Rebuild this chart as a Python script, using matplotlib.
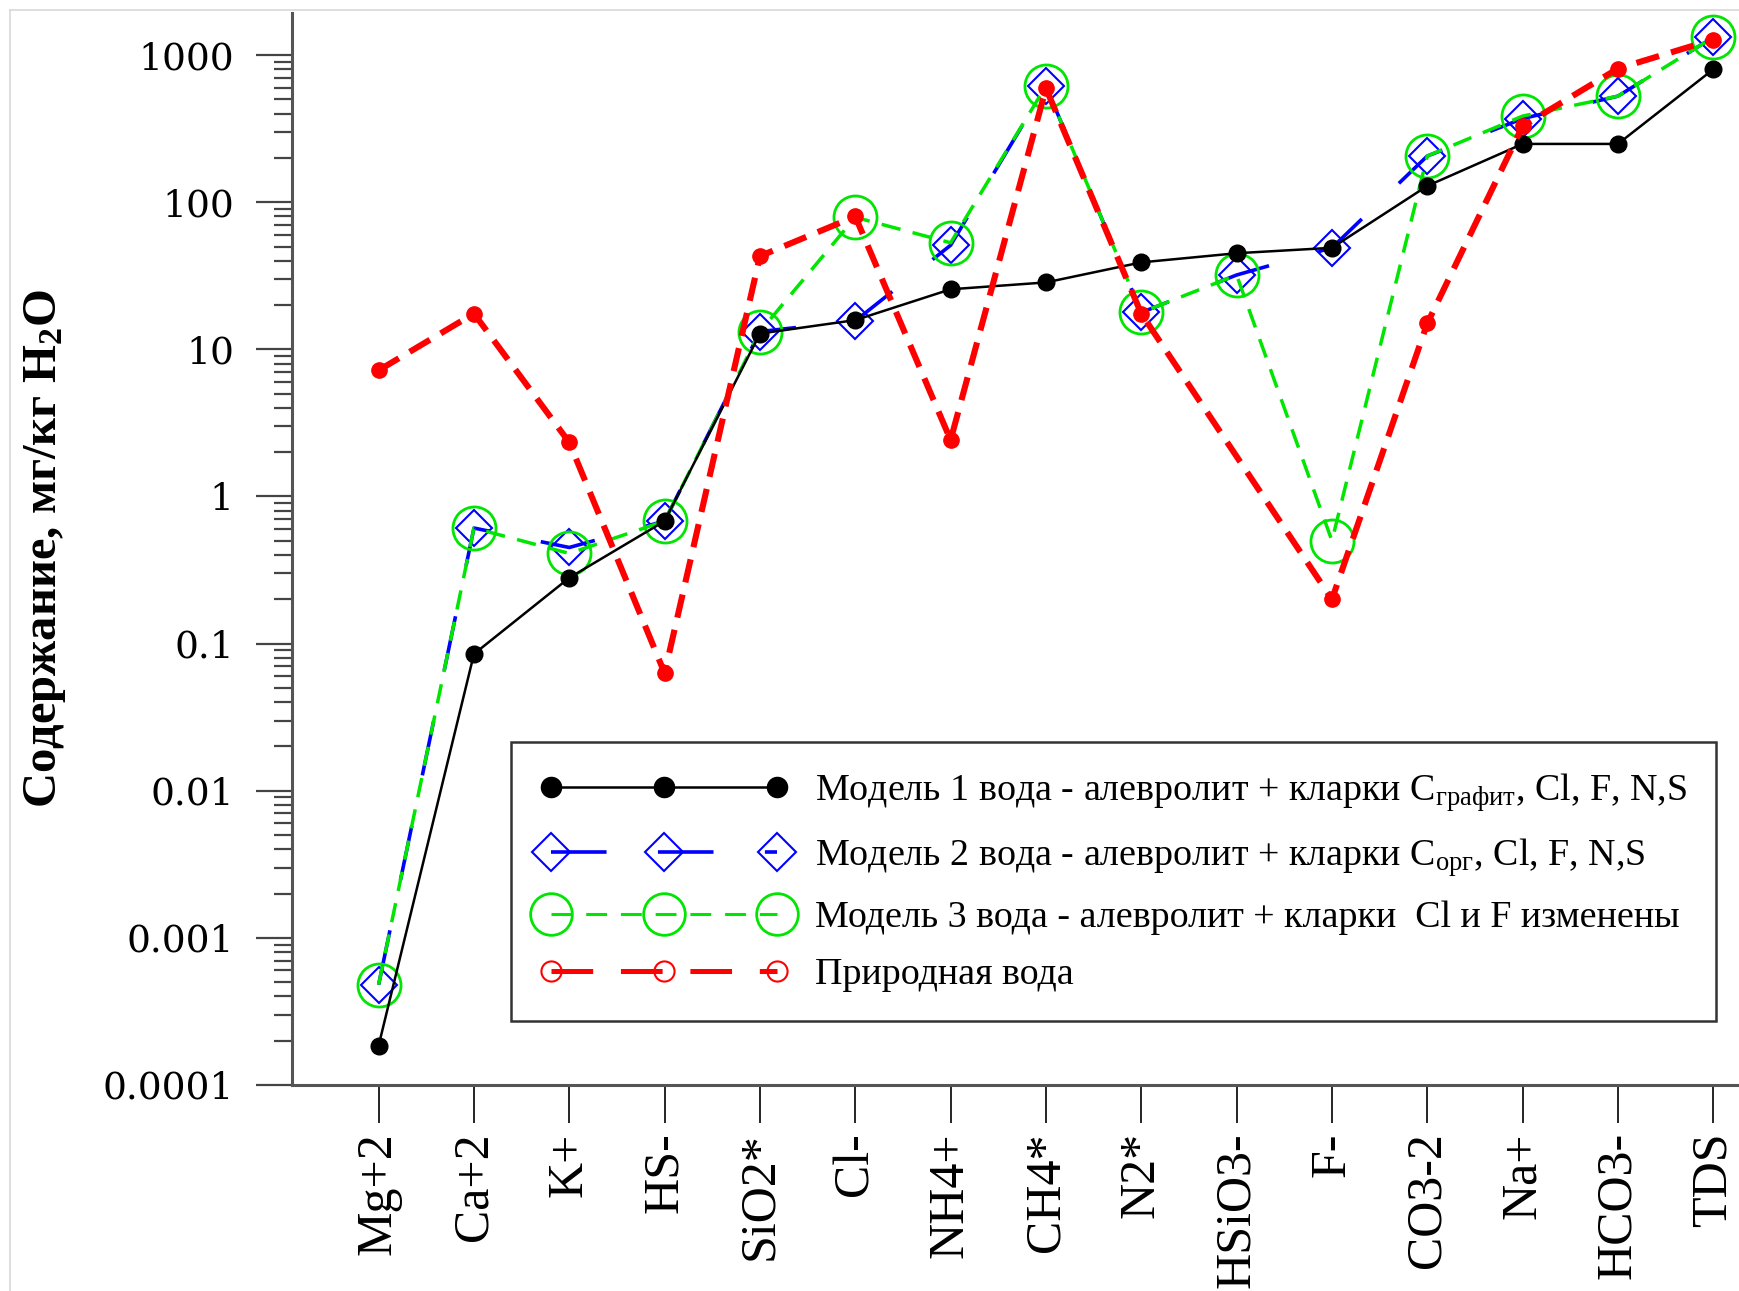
import numpy as np
import matplotlib
matplotlib.use("Agg")
import matplotlib.pyplot as plt
from matplotlib.lines import Line2D
from matplotlib.ticker import LogLocator, FuncFormatter, NullFormatter

plt.rcParams.update({
    "font.family": "Liberation Serif",
    "mathtext.fontset": "custom",
    "mathtext.rm": "Liberation Serif",
    "mathtext.it": "Liberation Serif:italic",
    "mathtext.bf": "Liberation Serif:bold",
    "lines.scale_dashes": False,
})

SPECIES = ["Mg+2", "Ca+2", "K+", "HS-", "SiO2*", "Cl-", "NH4+", "CH4*",
           "N2*", "HSiO3-", "F-", "CO3-2", "Na+", "HCO3-", "TDS"]

# mg/kg H2O
MODEL1 = [1.85e-4, 0.085, 0.28, 0.68, 12.8, 15.8, 25.6, 28.5, 39, 45, 49, 129, 249, 249, 800]
MODEL2 = [4.8e-4, 0.61, 0.45, 0.68, 13.2, 15.6, 51, 615, 17.8, 32, 49, 206, 370, 526, 1320]
MODEL3 = [4.8e-4, 0.61, 0.41, 0.68, 13.2, 79, 53, 615, 17.8, 32, 0.5, 206, 385, 526, 1320]
NATURAL = [7.2, 17.5, 2.33, 0.063, 43, 80, 2.42, 594, 17.5, np.nan, 0.2, 15, 329, 810, 1275]

LABELS = [
    "Модель 1 вода - алевролит + кларки C$_{\\mathregular{графит}}$, Cl, F, N,S",
    "Модель 2 вода - алевролит + кларки C$_{\\mathregular{орг}}$, Cl, F, N,S",
    "Модель 3 вода - алевролит + кларки  Cl и F изменены",
    "Природная вода",
]

BLUE = "#0000ff"
GREEN = "#00e600"
RED = "#ff0000"

fig = plt.figure(figsize=(17.39, 12.91), dpi=100)
ax = fig.add_axes([0.168, 0.1596, 0.832, 0.8304])

x = np.arange(len(SPECIES))

ax.plot(x, MODEL2, color=BLUE, lw=2.6, dashes=(40, 37), marker="D", ms=18,
        mfc="none", mec=BLUE, mew=1.5, zorder=2)
ax.plot(x, MODEL3, color=GREEN, lw=2.5, dashes=(14, 9), marker="o", ms=31,
        mfc="none", mec=GREEN, mew=2.0, zorder=3)
ax.plot(x, MODEL1, color="black", lw=1.8, marker="o", ms=12, zorder=4)
nat = np.array(NATURAL)
ok = ~np.isnan(nat)
ax.plot(x[ok], nat[ok], color=RED, lw=4.4, dashes=(17, 9), marker="o", ms=11,
        mfc=RED, mec=RED, zorder=5)

ax.set_yscale("log")
ax.set_ylim(1e-4, 1935)
ax.set_xlim(-0.907, 14.27)

ax.yaxis.set_major_locator(LogLocator(base=10, numticks=20))
ax.yaxis.set_minor_locator(LogLocator(base=10, subs=np.arange(2, 10), numticks=20))
ax.yaxis.set_major_formatter(FuncFormatter(lambda v, _: f"{v:g}"))
ax.yaxis.set_minor_formatter(NullFormatter())
ax.tick_params(axis="y", which="major", direction="out", length=26, width=1.6,
               color="#444444", pad=16, labelsize=27)
ax.tick_params(axis="y", which="minor", direction="out", length=13, width=1.6,
               color="#444444")
for lab in ax.get_yticklabels():
    lab.set_family("DejaVu Serif")

ax.set_xticks(x)
ax.set_xticklabels(SPECIES, rotation=90, fontsize=36, family="Liberation Serif")
ax.tick_params(axis="x", direction="out", length=27, width=1.2, color="black", pad=7)

for side in ("top", "right"):
    ax.spines[side].set_visible(False)
for side in ("left", "bottom"):
    ax.spines[side].set_color("#555555")
    ax.spines[side].set_linewidth(2.2)

ax.set_ylabel("Содержание, мг/кг H$_\\mathbf{2}$O", fontsize=35, fontweight="bold")
ax.yaxis.set_label_coords(-0.155, 0.5)

handles = [
    Line2D([], [], color="black", lw=1.8, marker="o", ms=14.5),
    Line2D([], [], color=BLUE, lw=2.6, dashes=(40, 37), marker="D", ms=19,
           mfc="none", mec=BLUE, mew=1.5),
    Line2D([], [], color=GREEN, lw=2.2, dashes=(15, 10), marker="o", ms=30,
           mfc="none", mec=GREEN, mew=2.0),
    Line2D([], [], color=RED, lw=3.6, dashes=(30, 20), marker="o", ms=14.5,
           mfc="none", mec=RED, mew=1.5),
]
leg = ax.legend(handles, LABELS, loc="lower left", bbox_to_anchor=(0.151, 0.060),
                borderaxespad=0, numpoints=3, handlelength=6.55, handletextpad=0.7,
                borderpad=0.75, labelspacing=0.58, fontsize=27.4,
                fancybox=False, framealpha=1, edgecolor="#333333")
leg.get_frame().set_linewidth(1.8)

# thin page border on the top and left
fig.add_artist(Line2D([0.006, 0.006], [0, 0.992], transform=fig.transFigure,
                      color="#d8d8d8", lw=1.2))
fig.add_artist(Line2D([0.006, 1.0], [0.992, 0.992], transform=fig.transFigure,
                      color="#d8d8d8", lw=1.2))

fig.savefig("out.png", dpi=100)
